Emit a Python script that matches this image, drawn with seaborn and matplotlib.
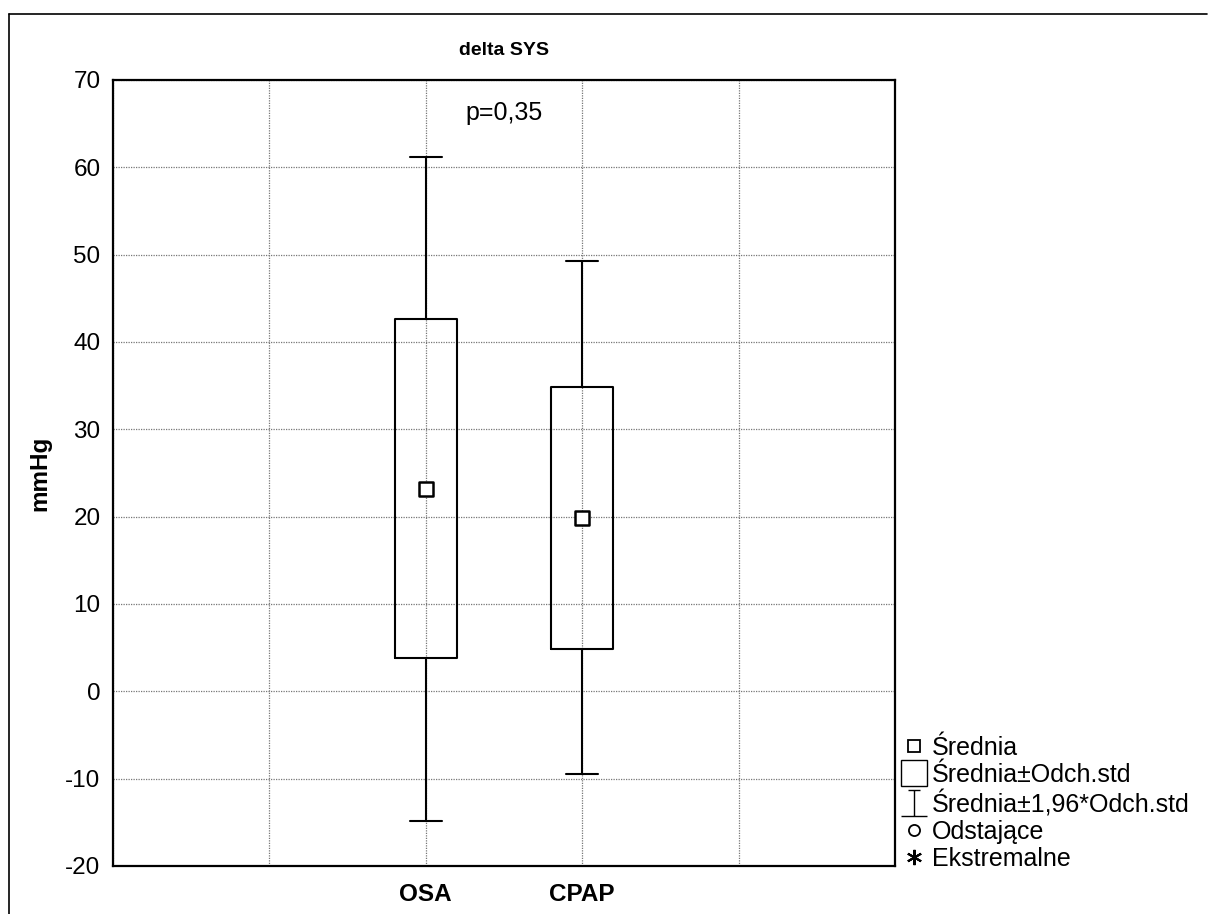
import numpy as np
import seaborn as sns
import matplotlib.pyplot as plt
from matplotlib.lines import Line2D
from matplotlib.path import Path

# Data (mean, mean +/- SD, mean +/- 1.96*SD)
groups = ["OSA", "CPAP"]
means = [23.2, 19.9]
box_low = [3.8, 4.9]
box_high = [42.6, 34.9]
whisk_low = [-14.8, -9.5]
whisk_high = [61.2, 49.3]

sns.set_style("white")
plt.rcParams['font.family'] = ['Liberation Sans', 'DejaVu Sans']
plt.rcParams['text.color'] = 'black'
plt.rcParams['axes.labelcolor'] = 'black'
plt.rcParams['xtick.color'] = 'black'
plt.rcParams['ytick.color'] = 'black'

fig = plt.figure(figsize=(12.08, 9.14), dpi=100)
ax = fig.add_axes([113 / 1208, 1 - 866 / 914, (895 - 113) / 1208, (866 - 80) / 914])

positions = [1, 2]
stats = []
for i, g in enumerate(groups):
    stats.append({
        "label": g,
        "med": means[i],
        "q1": box_low[i],
        "q3": box_high[i],
        "whislo": whisk_low[i],
        "whishi": whisk_high[i],
        "fliers": [],
    })

ax.bxp(stats, positions=positions, widths=0.4, capwidths=0.205, showfliers=False,
       boxprops=dict(color="black", linewidth=1.5),
       whiskerprops=dict(color="black", linewidth=1.5),
       capprops=dict(color="black", linewidth=1.5),
       medianprops=dict(linewidth=0), manage_ticks=False, zorder=3)

sns.scatterplot(x=positions, y=means, marker="s", s=90, facecolor="white",
                edgecolor="black", linewidth=1.8, ax=ax, zorder=4)

ax.set_xlim(-1, 4)
ax.set_ylim(-20, 70)
ax.set_xticks([-1, 0, 1, 2, 3, 4])
ax.set_xticklabels(["", "", "OSA", "CPAP", "", ""], fontsize=17.5, fontweight="bold")
ax.set_yticks(np.arange(-20, 71, 10))
ax.set_yticklabels([str(v) for v in range(-20, 71, 10)], fontsize=17.5)
ax.tick_params(axis="y", length=0, pad=9)
ax.tick_params(axis="x", length=0, pad=12)
ax.grid(True, color="#777777", linestyle=(0, (1, 1)), linewidth=0.9)
ax.set_axisbelow(True)
for s in ax.spines.values():
    s.set_color("black")
    s.set_linewidth(1.6)

ax.set_title("delta SYS", fontsize=14, fontweight="bold", pad=18)
ax.set_ylabel("mmHg", fontsize=17.5, fontweight="bold", labelpad=10)
ax.text(1.5, 66.2, "p=0,35", ha="center", va="center", fontsize=18)

# Legend
whisk_path = Path([(0, -1), (0, 1), (-0.45, 1), (0.45, 1), (-1, -1), (1, -1)],
                  [Path.MOVETO, Path.LINETO, Path.MOVETO, Path.LINETO, Path.MOVETO, Path.LINETO])
handles = [
    Line2D([], [], linestyle="none", marker="s", markersize=8, markerfacecolor="white",
           markeredgecolor="black", markeredgewidth=1.3),
    Line2D([], [], linestyle="none", marker="s", markersize=19, markerfacecolor="white",
           markeredgecolor="black", markeredgewidth=1.0),
    Line2D([], [], linestyle="none", marker=whisk_path, markersize=19,
           markeredgecolor="black", markeredgewidth=1.0, fillstyle="none"),
    Line2D([], [], linestyle="none", marker="o", markersize=8, markerfacecolor="white",
           markeredgecolor="black", markeredgewidth=1.3),
    Line2D([], [], linestyle="none", marker=(6, 2, 0), markersize=11,
           markeredgecolor="black", markeredgewidth=1.5),
]
labels = ["Średnia", "Średnia±Odch.std", "Średnia±1,96*Odch.std", "Odstające", "Ekstremalne"]
fig.legend(handles, labels, loc="lower left", bbox_to_anchor=(901 / 1208, 1 - 871 / 914),
           frameon=False, fontsize=18, handlelength=1.0, handletextpad=0.25,
           labelspacing=0.12, borderpad=0, borderaxespad=0)

# Outer frame (top and left edges)
fig.add_artist(Line2D([9 / 1208, 1207 / 1208], [1 - 14 / 914, 1 - 14 / 914],
                      color="black", linewidth=1.2, transform=fig.transFigure))
fig.add_artist(Line2D([9 / 1208, 9 / 1208], [0, 1 - 14 / 914],
                      color="black", linewidth=1.2, transform=fig.transFigure))

fig.savefig("out.png", dpi=100)
plt.close(fig)
